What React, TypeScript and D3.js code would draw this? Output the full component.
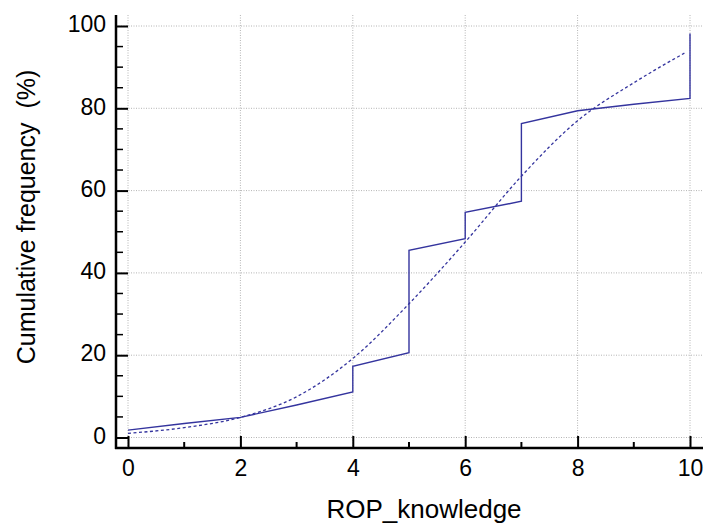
import React, { useEffect, useRef } from 'react';
import * as d3 from 'd3';

// empirical cumulative curve (linear between points, vertical jumps)
const empX = [0, 1, 2, 3, 4, 4, 5, 5, 6, 6, 7, 7, 8, 9, 10, 10];
const empY = [1.8, 3.4, 4.9, 7.9, 11.1, 17.3, 20.6, 45.5, 48.3, 54.7, 57.4, 76.3, 79.4, 81.0, 82.4, 98.2];

// fitted (dotted) curve
const fitX = [0, 1, 2, 3, 4, 5, 6, 7, 8, 9, 9.9];
const fitY = [1.0, 2.4, 4.9, 9.9, 19.2, 32.5, 47.5, 63.5, 77.0, 86.2, 93.4];

const xTicks = [0, 2, 4, 6, 8, 10];
const xMinor = [1, 3, 5, 7, 9];
const yTicks = [0, 20, 40, 60, 80, 100];
const yMinor = [5, 10, 15, 25, 30, 35, 45, 50, 55, 65, 70, 75, 85, 90, 95];

const W = 704;
const H = 525;
const FONT = '"Liberation Sans", Arial, Helvetica, sans-serif';
const LINE = '#34349e';

const App: React.FC = () => {
    const ref = useRef<SVGSVGElement | null>(null);

    useEffect(() => {
        if (!ref.current) return;
        const svg = d3.select(ref.current);
        svg.selectAll('*').remove();

        const x = d3.scaleLinear().domain([0, 10]).range([128, 690]);
        const y = d3.scaleLinear().domain([0, 100]).range([437.5, 26]);
        const left = 116;
        const right = 703;
        const top = 15;
        const bottom = 448;

        // grid
        const grid = svg.append('g')
            .attr('stroke', '#b4b4b4')
            .attr('stroke-width', 1)
            .attr('stroke-dasharray', '1,1.5')
            .attr('fill', 'none');
        grid.selectAll('line.h').data(yTicks).join('line')
            .attr('x1', left).attr('x2', right)
            .attr('y1', (d) => y(d)).attr('y2', (d) => y(d));
        grid.selectAll('line.v').data(xTicks).join('line')
            .attr('y1', top).attr('y2', bottom)
            .attr('x1', (d) => x(d)).attr('x2', (d) => x(d));

        // fitted curve
        const fitLine = d3.line<number>()
            .x((_, i) => x(fitX[i]))
            .y((d) => y(d))
            .curve(d3.curveMonotoneX);
        svg.append('path')
            .attr('d', fitLine(fitY) || '')
            .attr('fill', 'none')
            .attr('stroke', LINE)
            .attr('stroke-width', 1.3)
            .attr('stroke-dasharray', '3,2.5');

        // empirical curve
        const empLine = d3.line<number>()
            .x((_, i) => x(empX[i]))
            .y((d) => y(d));
        svg.append('path')
            .attr('d', empLine(empY) || '')
            .attr('fill', 'none')
            .attr('stroke', LINE)
            .attr('stroke-width', 1.4);

        // axes
        const xAxis = svg.append('g')
            .attr('transform', `translate(0,${bottom})`)
            .call(d3.axisBottom(x).tickValues(xTicks).tickSizeInner(-12).tickSizeOuter(0).tickPadding(12).tickFormat(d3.format('d')));
        xAxis.select('.domain').remove();
        xAxis.selectAll('.tick line').attr('stroke', '#000').attr('stroke-width', 2);
        xAxis.selectAll('text').attr('font-family', FONT).attr('font-size', 23).attr('fill', '#000');
        xAxis.selectAll('line.minor').data(xMinor).join('line')
            .attr('class', 'minor')
            .attr('x1', (d) => x(d)).attr('x2', (d) => x(d))
            .attr('y1', 0).attr('y2', -6)
            .attr('stroke', '#000').attr('stroke-width', 2);
        xAxis.append('line')
            .attr('x1', left - 1).attr('x2', right)
            .attr('y1', 0).attr('y2', 0)
            .attr('stroke', '#000').attr('stroke-width', 2.5);

        const yAxis = svg.append('g')
            .attr('transform', `translate(${left},0)`)
            .call(d3.axisLeft(y).tickValues(yTicks).tickSizeInner(-12).tickSizeOuter(0).tickPadding(10).tickFormat(d3.format('d')));
        yAxis.select('.domain').remove();
        yAxis.selectAll('.tick line').attr('stroke', '#000').attr('stroke-width', 2);
        yAxis.selectAll('text').attr('font-family', FONT).attr('font-size', 23).attr('fill', '#000').attr('dy', '0.25em');
        yAxis.selectAll('line.minor').data(yMinor).join('line')
            .attr('class', 'minor')
            .attr('y1', (d) => y(d)).attr('y2', (d) => y(d))
            .attr('x1', 0).attr('x2', 7)
            .attr('stroke', '#000').attr('stroke-width', 1.5);
        yAxis.append('line')
            .attr('x1', 0).attr('x2', 0)
            .attr('y1', top).attr('y2', bottom + 1)
            .attr('stroke', '#000').attr('stroke-width', 2.5);

        // titles
        svg.append('text')
            .attr('x', 424).attr('y', 518)
            .attr('text-anchor', 'middle')
            .attr('font-family', FONT).attr('font-size', 26)
            .attr('fill', '#000')
            .text('ROP_knowledge');
        svg.append('text')
            .attr('transform', 'translate(35,217) rotate(-90)')
            .attr('text-anchor', 'middle')
            .attr('font-family', FONT).attr('font-size', 25)
            .attr('fill', '#000')
            .attr('xml:space', 'preserve')
            .style('white-space', 'pre')
            .text('Cumulative frequency  (%)');
    }, []);

    return (
        <svg
            ref={ref}
            width={W}
            height={H}
            style={{ position: 'absolute', left: 0, top: 0, background: '#fff' }}
        />
    );
};

export default App;
